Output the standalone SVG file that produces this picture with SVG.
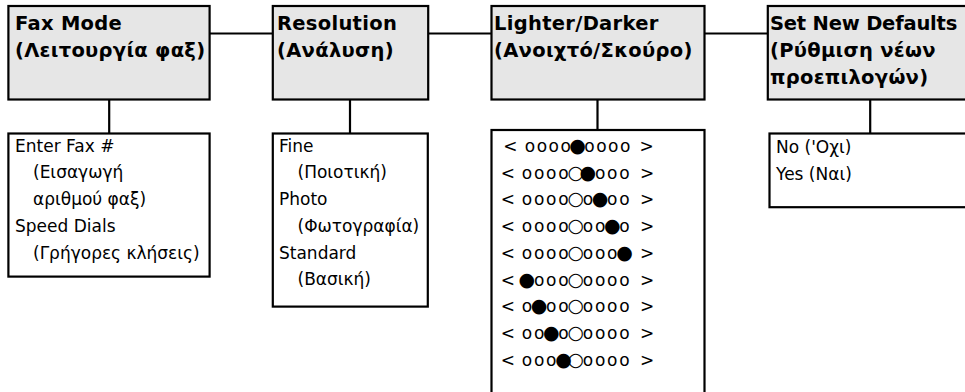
<svg xmlns="http://www.w3.org/2000/svg" width="965" height="392" viewBox="0 0 965 392">
<style>
.hdr{fill:#e6e6e6;stroke:#000;stroke-width:2.2}
.sub{fill:#fff;stroke:#000;stroke-width:2.2}
.conn{fill:none;stroke:#000;stroke-width:2.2}
.ht{font-family:"DejaVu Sans","Liberation Sans",sans-serif;font-weight:bold;font-size:19.5px;letter-spacing:0.3px;fill:#000}
.bt{font-family:"DejaVu Sans","Liberation Sans",sans-serif;font-size:17px;fill:#000}
.row{font-family:"DejaVu Sans","Liberation Sans",sans-serif;font-size:17px;fill:#000;text-anchor:middle}
.big{font-size:19px}
</style>
<rect width="965" height="392" fill="#fff"/>
<g id="connectors">
<path class="conn" d="M209.6 33.5H272.8M428.2 33.5H491.5M704.5 33.5H767.8M109.2 99.5V133.5M350 99.5V133.5M597.5 99.5V130M870.2 99.5V133.5"/>
</g>
<g id="fax-mode">
<rect class="hdr" x="8.4" y="6" width="201.2" height="93.5"/>
<text class="ht" x="15" y="29.5">Fax Mode</text>
<text class="ht" x="15" y="56.5">(Λειτουργία φαξ)</text>
</g>
<g id="fax-options">
<rect class="sub" x="8.4" y="133.5" width="201.2" height="143.1"/>
<text class="bt" x="15" y="151.7">Enter Fax #</text>
<text class="bt" x="33" y="178.4">(Εισαγωγή</text>
<text class="bt" x="33" y="205.1">αριθμού φαξ)</text>
<text class="bt" x="15" y="231.8">Speed Dials</text>
<text class="bt" x="33" y="258.5">(Γρήγορες κλήσεις)</text>
</g>
<g id="resolution">
<rect class="hdr" x="272.8" y="6" width="155.4" height="93.5"/>
<text class="ht" x="277" y="29.5">Resolution</text>
<text class="ht" x="277" y="56.5">(Ανάλυση)</text>
</g>
<g id="resolution-options">
<rect class="sub" x="272.8" y="133.5" width="155" height="173.1"/>
<text class="bt" x="279" y="151.7">Fine</text>
<text class="bt" x="297.5" y="178.4">(Ποιοτική)</text>
<text class="bt" x="279" y="205.1">Photo</text>
<text class="bt" x="297.5" y="231.8">(Φωτογραφία)</text>
<text class="bt" x="279" y="258.5">Standard</text>
<text class="bt" x="297.5" y="285.2">(Βασική)</text>
</g>
<g id="lighter-darker">
<rect class="hdr" x="491.5" y="6" width="213" height="93.5"/>
<text class="ht" x="494" y="29.5">Lighter/Darker</text>
<text class="ht" x="494" y="56.5">(Ανοιχτό/Σκούρο)</text>
</g>
<g id="lighter-darker-options">
<rect class="sub" x="491.5" y="130" width="213" height="290"/>
<text class="row" y="152" x="510.3 520 530 541.9 553.8 565.7 577.6 589.5 601.4 613.3 625.2 636 646.7">&lt; oooo<tspan class="big">●</tspan>oooo &gt;</text>
<text class="row" y="178.7" x="507.8 517 526.9 539.1 551.3 563.5 575.7 587.9 600.1 612.3 624.5 636 647">&lt; oooo<tspan class="big">○●</tspan>ooo &gt;</text>
<text class="row" y="205.4" x="507.8 517 526.9 539.1 551.3 563.5 575.7 587.9 600.1 612.3 624.5 636 647">&lt; oooo<tspan class="big">○</tspan>o<tspan class="big">●</tspan>oo &gt;</text>
<text class="row" y="232.1" x="507.8 517 526.9 539.1 551.3 563.5 575.7 587.9 600.1 612.3 624.5 636 647">&lt; oooo<tspan class="big">○</tspan>oo<tspan class="big">●</tspan>o &gt;</text>
<text class="row" y="258.8" x="507.8 517 526.9 539.1 551.3 563.5 575.7 587.9 600.1 612.3 624.5 636 647">&lt; oooo<tspan class="big">○</tspan>ooo<tspan class="big">●</tspan> &gt;</text>
<text class="row" y="285.5" x="507.8 517 526.9 539.1 551.3 563.5 575.7 587.9 600.1 612.3 624.5 636 647">&lt; <tspan class="big">●</tspan>ooo<tspan class="big">○</tspan>oooo &gt;</text>
<text class="row" y="312.2" x="507.8 517 526.9 539.1 551.3 563.5 575.7 587.9 600.1 612.3 624.5 636 647">&lt; o<tspan class="big">●</tspan>oo<tspan class="big">○</tspan>oooo &gt;</text>
<text class="row" y="338.9" x="507.8 517 526.9 539.1 551.3 563.5 575.7 587.9 600.1 612.3 624.5 636 647">&lt; oo<tspan class="big">●</tspan>o<tspan class="big">○</tspan>oooo &gt;</text>
<text class="row" y="365.6" x="507.8 517 526.9 539.1 551.3 563.5 575.7 587.9 600.1 612.3 624.5 636 647">&lt; ooo<tspan class="big">●○</tspan>oooo &gt;</text>
</g>
<g id="set-new-defaults">
<rect class="hdr" x="767.8" y="6" width="220" height="93.5"/>
<text class="ht" x="770" y="29.5" style="letter-spacing:-0.2px">Set New Defaults</text>
<text class="ht" x="770" y="56.5">(Ρύθμιση νέων</text>
<text class="ht" x="770" y="83.5">προεπιλογών)</text>
</g>
<g id="set-new-defaults-options">
<rect class="sub" x="769.5" y="133.5" width="220" height="73.7"/>
<text class="bt" x="776" y="153">No ('Οχι)</text>
<text class="bt" x="776" y="179.7">Yes (Ναι)</text>
</g>
</svg>
